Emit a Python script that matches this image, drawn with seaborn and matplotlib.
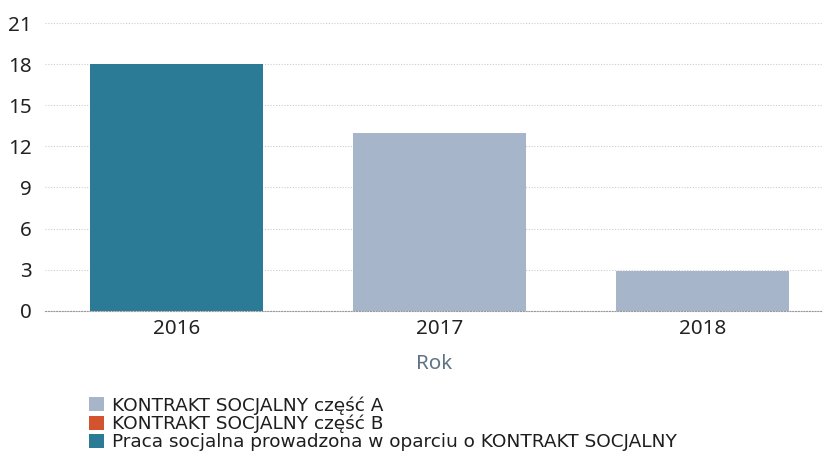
import matplotlib
matplotlib.use("Agg")
import matplotlib.pyplot as plt
import seaborn as sns
import pandas as pd
from matplotlib.patches import Patch

# data
years = ["2016", "2017", "2018"]
series_names = [
    "KONTRAKT SOCJALNY część A",
    "KONTRAKT SOCJALNY część B",
    "Praca socjalna prowadzona w oparciu o KONTRAKT SOCJALNY",
]
kontrakt_a = [0, 13, 2.9]
kontrakt_b = [0, 0, 0]
praca = [18, 0, 0]
colors = ["#a6b5c9", "#d4532f", "#2c7b96"]
y_ticks = [0, 3, 6, 9, 12, 15, 18, 21]

rows = []
for name, vals in zip(series_names, [kontrakt_a, kontrakt_b, praca]):
    for y, v in zip(years, vals):
        rows.append({"Rok": y, "seria": name, "wartosc": v})
df = pd.DataFrame(rows)

sns.set_theme(style="white")
plt.rcParams["font.family"] = ["Noto Sans", "DejaVu Sans"]

fig = plt.figure(figsize=(8.24, 4.65), dpi=100)
ax = fig.add_axes([0.055, 0.332, 0.943, 0.618])

sns.barplot(data=df, x="Rok", y="wartosc", hue="seria", hue_order=series_names,
            palette=colors, saturation=1, dodge=False, width=0.66, ax=ax,
            legend=False, edgecolor="none")

ax.set_ylim(0, 21)
ax.set_xlim(-0.5, 2.456)
ax.set_yticks(y_ticks)
ax.yaxis.grid(True, linestyle=(0, (1, 1.5)), color="#cccccc", linewidth=0.8)
ax.set_axisbelow(True)
for s in ["top", "right", "left"]:
    ax.spines[s].set_visible(False)
ax.spines["bottom"].set_linestyle((0, (1, 1.5)))
ax.spines["bottom"].set_color("#999999")
ax.spines["bottom"].set_linewidth(0.8)

ax.tick_params(axis="both", length=0, labelsize=14.8, labelcolor="#222222")
ax.tick_params(axis="y", pad=10)
ax.tick_params(axis="x", pad=6)
ax.set_ylabel("")
ax.set_xlabel("Rok", fontsize=14.8, color="#5f7386", labelpad=11)

handles = [Patch(facecolor=c, edgecolor="none") for c in colors]
fig.legend(handles, series_names, loc="upper left", bbox_to_anchor=(0.108, 0.148),
           frameon=False, handlelength=0.8, handleheight=0.8,
           handletextpad=0.45, labelspacing=0.0, borderaxespad=0, borderpad=0,
           labelcolor="#1e1e1e", prop={"family": "DejaVu Sans", "size": 13.3})

fig.savefig("out.png", dpi=100)
